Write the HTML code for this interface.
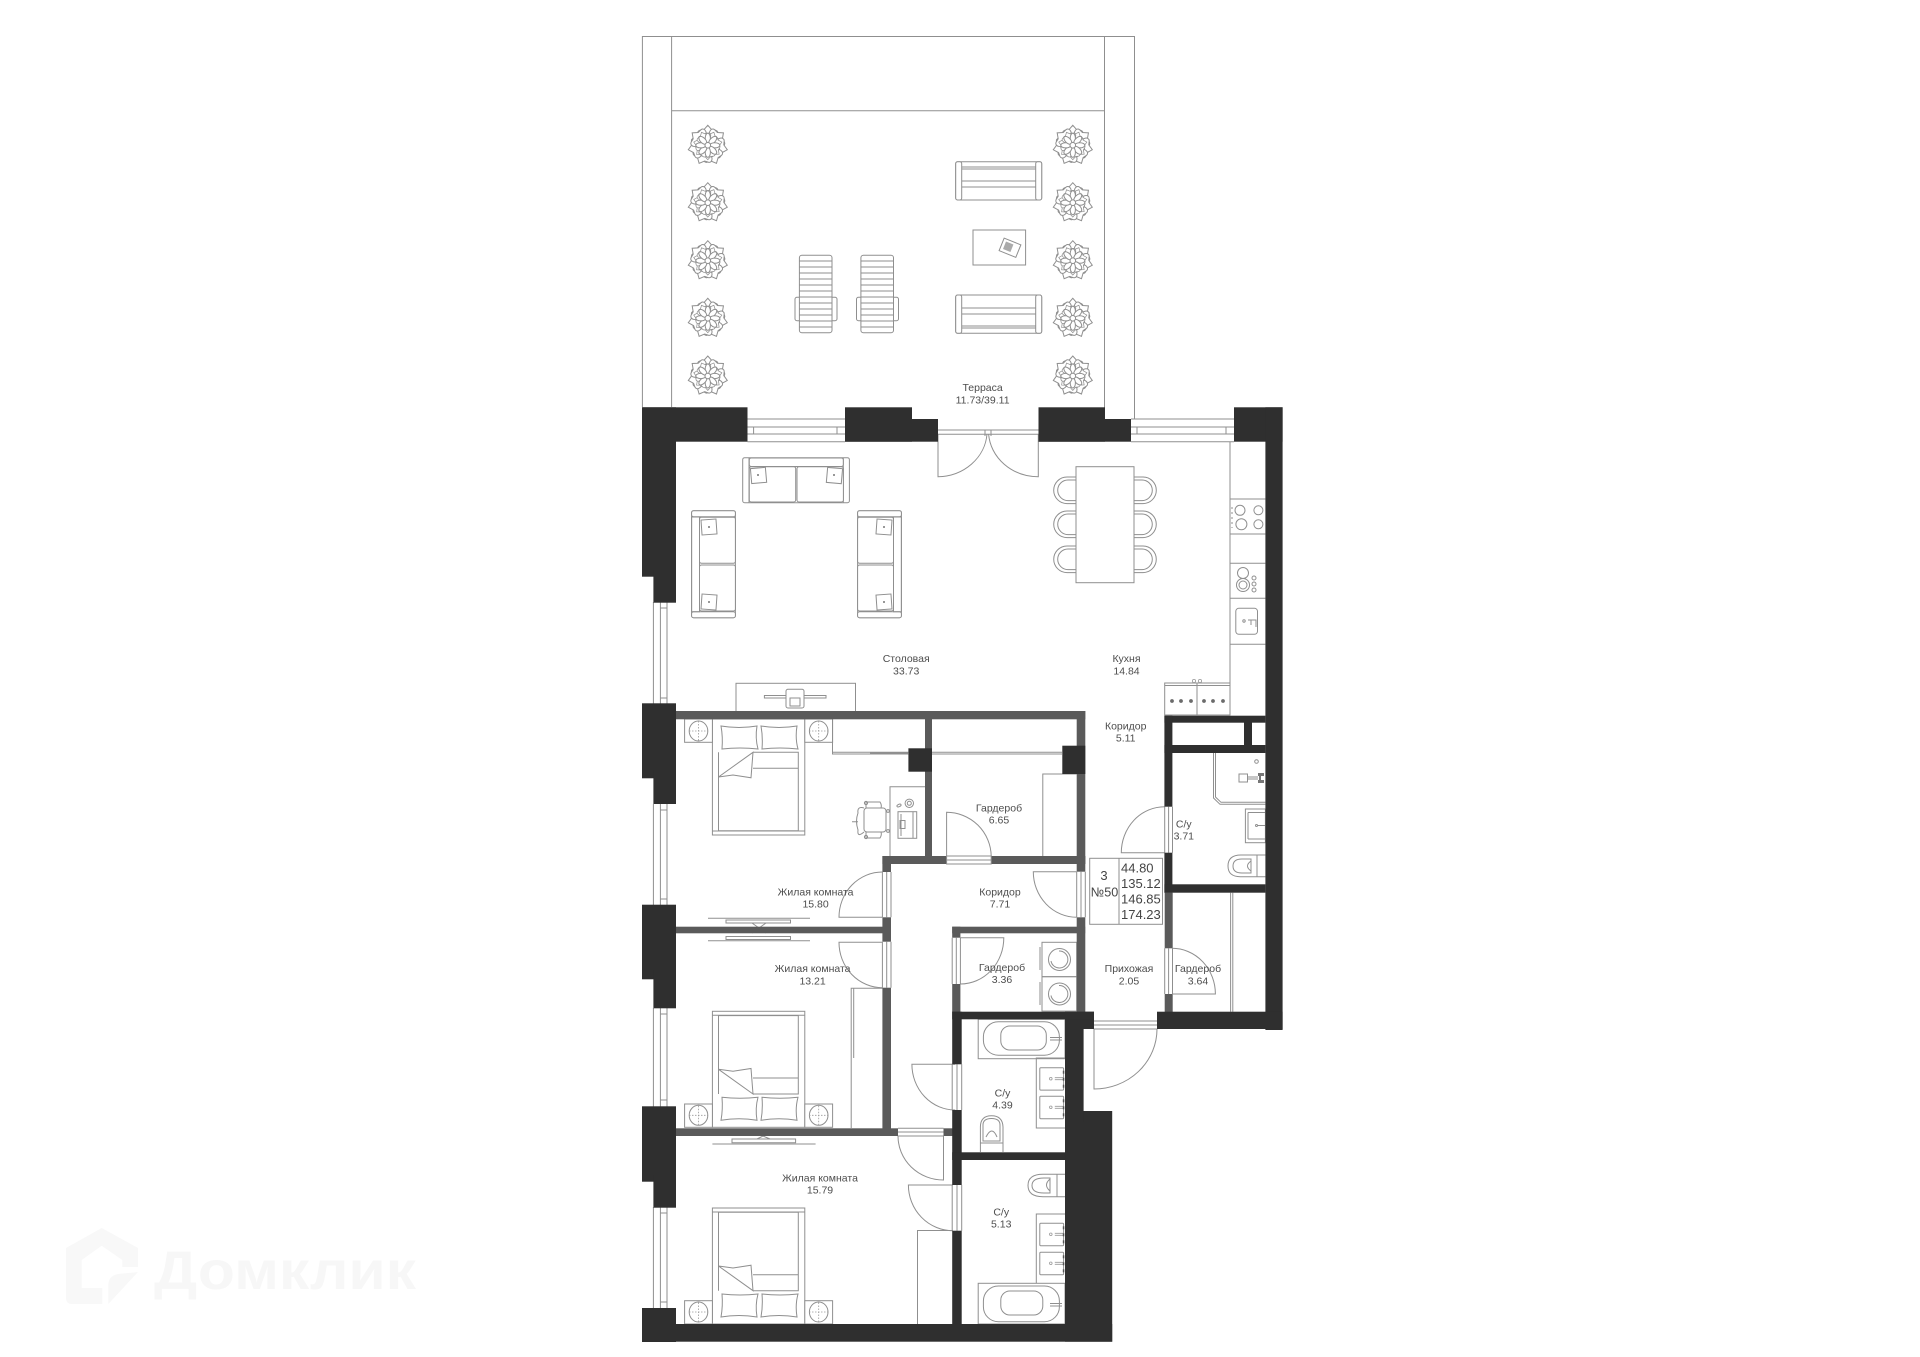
<!DOCTYPE html>
<html><head><meta charset="utf-8"><style>
html,body{margin:0;padding:0;background:#fff}
svg{display:block;filter:blur(.3px)}
text{font-family:"Liberation Sans","DejaVu Sans",sans-serif;font-size:10.5px;fill:#4d4d4d;text-anchor:middle}
.i{font-size:13px;fill:#444}
.l{fill:none;stroke:#8f8f8f;stroke-width:1}
.w{fill:#fff;stroke:#8f8f8f;stroke-width:1}
.t{fill:none;stroke:#9a9a9a;stroke-width:.8}
.k{fill:#2f2f2f}
.g{fill:#5a5a5a}
</style></head><body>
<svg width="1920" height="1357" viewBox="0 0 1920 1357" xmlns="http://www.w3.org/2000/svg">
<defs>
<path id="p1" d="M0,-4C-11,-7 -12,-14 -8,-15L-4,-15.5L0,-20L4,-15.5L8,-15C12,-14 11,-7 0,-4Z" class="w"/>
<ellipse id="p2" cx="0" cy="-7" rx="2.6" ry="5" class="w"/>
<g id="fl">
<use href="#p1"/><use href="#p1" transform="rotate(51.4)"/><use href="#p1" transform="rotate(102.9)"/><use href="#p1" transform="rotate(154.3)"/><use href="#p1" transform="rotate(205.7)"/><use href="#p1" transform="rotate(257.1)"/><use href="#p1" transform="rotate(308.6)"/>
<use href="#p1" transform="rotate(25) scale(.72)"/><use href="#p1" transform="rotate(77) scale(.72)"/><use href="#p1" transform="rotate(128) scale(.72)"/><use href="#p1" transform="rotate(180) scale(.72)"/><use href="#p1" transform="rotate(231) scale(.72)"/><use href="#p1" transform="rotate(283) scale(.72)"/><use href="#p1" transform="rotate(334) scale(.72)"/>
<use href="#p2"/><use href="#p2" transform="rotate(45)"/><use href="#p2" transform="rotate(90)"/><use href="#p2" transform="rotate(135)"/><use href="#p2" transform="rotate(180)"/><use href="#p2" transform="rotate(225)"/><use href="#p2" transform="rotate(270)"/><use href="#p2" transform="rotate(315)"/>
<circle r="2.8" class="w"/>
</g>
<g id="lounger">
<rect x="795" y="297.3" width="42" height="23.4" rx="2" class="l"/>
<rect x="799.4" y="255.3" width="32.6" height="77.4" rx="2.5" class="w"/>
<path class="l" d="M799.4,261H832M799.4,267H832M799.4,273H832M799.4,279H832M799.4,285H832M799.4,291H832M799.4,297H832M799.4,303H832M799.4,309H832M799.4,315H832M799.4,321H832M799.4,327H832"/>
</g>
<g id="bench">
<rect x="955.7" y="161.7" width="86" height="38.3" rx="2" class="l"/>
<rect x="955.7" y="161.7" width="6" height="38.3" rx="2" class="w"/>
<rect x="1035.7" y="161.7" width="6" height="38.3" rx="2" class="w"/>
<path class="l" d="M961.7,167H1035.7M961.7,169H1035.7M961.7,181H1035.7M961.7,187H1035.7"/>
</g>
<g id="bed">
<rect x="712.4" y="719" width="92.4" height="116" class="w"/>
<path class="l" d="M718.5,752.3V830.7H798.3V752.3H753M712.4,831H804.8M753,768.3H798.3"/>
<path class="w" d="M718.5,777L753,752.3L751,777.8L733,775Z"/>
<path class="w" d="M721,726Q739,729 757,726Q755,738 758,749Q740,747 722,749Q723,737 721,726Z"/>
<path class="w" d="M761,726Q779,729 797,726Q795,738 798,749Q780,747 762,749Q763,737 761,726Z"/>
<rect x="684.6" y="719" width="27.8" height="23.3" class="w"/>
<ellipse cx="698.5" cy="731" rx="9.3" ry="10" class="w"/>
<path class="t" stroke-dasharray="1.5 1.5" d="M689,731H708M698.5,721V741"/>
<rect x="804.8" y="719" width="27.8" height="23.3" class="w"/>
<ellipse cx="818.7" cy="731" rx="9.3" ry="10" class="w"/>
<path class="t" stroke-dasharray="1.5 1.5" d="M809,731H828M818.7,721V741"/>
</g>
<g id="sink">
<rect x="0" y="0" width="23.8" height="22.4" class="w" rx="1"/>
<circle cx="11" cy="11" r="1.3" class="t"/>
<path class="t" d="M15,10H24M15,12H24"/>
<rect x="23" y="3" width="1.5" height="3" fill="#555"/><rect x="23" y="10" width="1.5" height="3" fill="#555"/><rect x="23" y="17" width="1.5" height="3" fill="#555"/>
</g>
<g id="sofaV">
<rect x="691.6" y="510.7" width="43.8" height="107" rx="2" class="l"/>
<rect x="691.6" y="510.7" width="43.8" height="6" rx="2" class="w"/>
<rect x="691.6" y="611.7" width="43.8" height="6" rx="2" class="w"/>
<path class="l" d="M691.6,517V611.7H699.5V517Z"/>
<rect x="699.5" y="517.3" width="35.9" height="46" rx="2" class="w"/>
<rect x="699.5" y="565" width="35.9" height="46" rx="2" class="w"/>
<rect x="701.5" y="519.5" width="15" height="15" class="w" transform="rotate(-4 709 527)"/>
<rect x="701.5" y="594.5" width="15" height="15" class="w" transform="rotate(4 709 602)"/>
<circle cx="709" cy="527" r="1" fill="#777"/><circle cx="709" cy="602" r="1" fill="#777"/>
</g>
</defs>
<rect width="1920" height="1357" fill="#fff"/>

<!-- watermark -->
<path fill="#f8f8f8" d="M101.7,1228L138,1248V1267H122.3V1260L101.7,1245.7L81.7,1260V1288H102.3V1304H72Q66,1304 66,1298V1248ZM138,1272L108.3,1304V1285Q108.3,1276 118,1274Z"/>
<text x="285" y="1289" textLength="262" lengthAdjust="spacingAndGlyphs" style="font-size:54px;font-weight:bold;fill:#f7f7f7">Домклик</text>

<!-- terrace -->
<path class="l" d="M642.4,407V36.5H1134.5V419M671.6,407V36.5M1104.5,419V36.5M671.6,110.7H1104.5" stroke-width="1.2"/>
<use href="#fl" x="707.8" y="145.3"/><use href="#fl" x="707.8" y="202.7"/><use href="#fl" x="707.8" y="260.7"/><use href="#fl" x="707.8" y="318.3"/><use href="#fl" x="707.8" y="376"/>
<use href="#fl" x="1072.8" y="145.3"/><use href="#fl" x="1072.8" y="202.7"/><use href="#fl" x="1072.8" y="260.7"/><use href="#fl" x="1072.8" y="318.3"/><use href="#fl" x="1072.8" y="376"/>
<use href="#bench"/>
<use href="#bench" transform="translate(0,495) scale(1,-1)"/>
<rect x="973" y="230" width="52.6" height="35" class="l"/>
<g transform="rotate(22 1010 247.7)"><rect x="1001" y="241" width="18" height="13.5" class="w"/><rect x="1004" y="243.5" width="8" height="8" fill="#aaa"/></g>
<use href="#lounger"/><use href="#lounger" x="61.5"/>

<!-- living furniture -->
<rect x="742.7" y="457.7" width="106.7" height="45" rx="2" class="l"/>
<path class="l" d="M749,457.7V502.7M843.3,457.7V502.7"/>
<rect x="749.3" y="458" width="94" height="8.5" rx="2" class="w"/>
<rect x="749.3" y="466.7" width="46.4" height="35.3" rx="2" class="w"/>
<rect x="797" y="466.7" width="46.4" height="35.3" rx="2" class="w"/>
<rect x="751" y="468" width="15" height="15" class="w" transform="rotate(-5 758 475)"/>
<rect x="827" y="468" width="15" height="15" class="w" transform="rotate(5 834 475)"/>
<circle cx="758" cy="475" r="1" fill="#777"/><circle cx="834" cy="475" r="1" fill="#777"/>
<use href="#sofaV"/>
<use href="#sofaV" transform="translate(1593,0) scale(-1,1)"/>
<!-- dining -->
<path class="l" d="M1076,477h-9a13.3,13.3 0 0 0 0,26.6h9M1076,480h-8a10.3,10.3 0 0 0 0,20.6h8M1076,511h-9a13.3,13.3 0 0 0 0,26.6h9M1076,514h-8a10.3,10.3 0 0 0 0,20.6h8M1076,546h-9a13.3,13.3 0 0 0 0,26.6h9M1076,549h-8a10.3,10.3 0 0 0 0,20.6h8"/>
<path class="l" d="M1134,477h9a13.3,13.3 0 0 1 0,26.6h-9M1134,480h8a10.3,10.3 0 0 1 0,20.6h-8M1134,511h9a13.3,13.3 0 0 1 0,26.6h-9M1134,514h8a10.3,10.3 0 0 1 0,20.6h-8M1134,546h9a13.3,13.3 0 0 1 0,26.6h-9M1134,549h8a10.3,10.3 0 0 1 0,20.6h-8"/>
<rect x="1076" y="466.7" width="58" height="116" class="w"/>
<!-- tv unit -->
<rect x="736" y="683.3" width="119.5" height="30" class="l"/>
<rect x="764.4" y="695.5" width="61.6" height="2.5" class="w"/>
<rect x="786" y="689.3" width="18" height="18.7" rx="2" class="w"/>
<rect x="790" y="698" width="10" height="8" class="w"/>
<!-- kitchen -->
<path class="l" d="M1230,441.7V683M1230,499H1265.4M1230,534H1265.4M1230,563.3H1265.4M1230,598.3H1265.4M1230,644.3H1265.4"/>
<circle cx="1240" cy="510.3" r="5" class="l"/><circle cx="1258.4" cy="510.3" r="4.5" class="l"/><circle cx="1241.4" cy="524.3" r="5.5" class="l"/><circle cx="1258.4" cy="524.3" r="4.5" class="l"/>
<path class="l" stroke-dasharray="2 3" d="M1232,507V528"/>
<circle cx="1243" cy="573" r="5.5" class="l"/><circle cx="1243" cy="585" r="6.5" class="l"/><circle cx="1243" cy="585" r="4" class="l"/>
<circle cx="1254" cy="578" r="2" class="l"/><circle cx="1254" cy="584" r="2" class="l"/><circle cx="1254" cy="590" r="2" class="l"/>
<rect x="1235.8" y="608.3" width="21.7" height="26" rx="3" class="l"/>
<path class="l" d="M1248,620H1256V627M1251,620V625"/><circle cx="1244" cy="621" r="1.2" class="l"/>
<rect x="1164.7" y="683" width="65.3" height="32" class="l"/><path class="l" d="M1164.7,685.5H1230M1197,683V715"/>
<circle cx="1194" cy="681" r="1.6" class="t"/><circle cx="1200" cy="681" r="1.6" class="t"/>
<g fill="#6b6b6b"><circle cx="1172" cy="701" r="1.9"/><circle cx="1181" cy="701" r="1.9"/><circle cx="1191" cy="701" r="1.9"/><circle cx="1204" cy="701" r="1.9"/><circle cx="1213" cy="701" r="1.9"/><circle cx="1223" cy="701" r="1.9"/></g>

<!-- windows top -->
<path class="l" d="M747.5,419H845M747.5,427H845M747.5,434H845M747.5,441.7H845M753.6,427V434M837,427V434M1131,419H1234M1131,427H1234M1131,434H1234M1131,441.7H1234M1137,427V434M1226,427V434"/>
<!-- windows left -->
<path class="l" d="M653.4,602V704M660.4,602V704M667,602V704M653.4,804V905M660.4,804V905M667,804V905M653.4,1008V1107M660.4,1008V1107M667,1008V1107M653.4,1207V1308M660.4,1207V1308M667,1207V1308M660.4,608H667M660.4,698H667M660.4,810H667M660.4,899H667M660.4,1014H667M660.4,1100H667M660.4,1213H667M660.4,1302H667"/>
<!-- balcony door -->
<path class="l" d="M938,430H1038.5M938,434.3H1038.5M985,430V436M991,430V436"/>
<path class="l" d="M938,434V476.7A50,46 0 0 0 987,434M1038.3,434V476.7A50,46 0 0 1 988.6,434"/>

<!-- bedroom 1 -->
<use href="#bed"/>
<path class="l" d="M832.5,719V754H908.4M832.5,752.3H908.4M870,753H908"/>
<path class="l" d="M932,752.3H1062M932,754H1062"/>
<path class="l" d="M1042.8,856V774H1076.7"/>
<path class="l" d="M890,856V786.7H925"/>
<!-- desk chair -->
<rect x="864" y="808" width="22" height="24" rx="3" class="l"/>
<path class="l" d="M864,808Q857,806 858,813Q855,821 858,830Q857,838 864,832"/>
<path class="l" d="M866,802H880Q882,805 881,808H866ZM866,838H880Q882,835 881,832H866ZM852,821.7H858"/>
<circle cx="866" cy="803" r="1.6" class="l"/><circle cx="866" cy="837" r="1.6" class="l"/><circle cx="888" cy="811" r="1.4" class="l"/><circle cx="888" cy="831" r="1.4" class="l"/>
<rect x="898" y="811.7" width="18.7" height="26.6" class="l"/><path class="l" d="M901,814V836M913,811.7V838.3"/><rect x="900" y="820.5" width="5" height="8" class="l"/>
<circle cx="909.3" cy="803.3" r="4.2" class="l"/><circle cx="909.3" cy="803.3" r="2" class="l"/><ellipse cx="899" cy="805.5" rx="2.2" ry="1.2" class="l" transform="rotate(-25 899 805.5)"/>
<!-- tv bedrooms -->
<path class="l" d="M708,918.3H810M726,920H790.5V923H726ZM752,923L766,933M766,923L752,933"/>
<path class="l" d="M708,940.7H810M726,936.5H790.5V939.5H726Z"/>
<path class="l" d="M712.4,1144H815.6M732,1139H795.6V1142.7H732ZM757,1139L763,1136L770,1139"/>
<!-- bedroom 2 -->
<use href="#bed" transform="translate(0,1846.3) scale(1,-1)"/>
<path class="l" d="M882.4,988.3H851.2V1128M853.7,988.3V1058"/>
<!-- bedroom 3 -->
<use href="#bed" transform="translate(0,2043) scale(1,-1)"/>
<path class="l" d="M917.5,1324V1230.5H952"/>

<!-- wardrobe 3.36 washers -->
<rect x="1042" y="942.3" width="34.7" height="34.4" class="l"/><rect x="1042" y="976.7" width="34.7" height="34.4" class="l"/>
<path class="l" d="M1040,947V970M1040,982V1005"/>
<circle cx="1059.5" cy="959.5" r="11" class="l"/><path class="l" d="M1059,951A8.5,8.5 0 1 1 1051,961"/>
<circle cx="1059.5" cy="994" r="11" class="l"/><path class="l" d="M1059,985.5A8.5,8.5 0 1 1 1051,995.5"/>
<!-- wardrobe 3.64 -->
<path class="l" d="M1230.6,892.7V1011.7M1232.8,892.7V1011.7"/>

<!-- bath 3.71 -->
<path class="l" d="M1213.5,752.7V798L1220,804.3H1265.4M1215.5,752.7V797L1221,802.3H1265.4"/>
<rect x="1239" y="774" width="8.5" height="8" class="l"/><path class="l" d="M1247.5,777H1258M1247.5,779H1258"/><circle cx="1256.5" cy="761.5" r="1.8" class="l"/>
<path fill="#777" d="M1258,773h6v3h-6zM1258,780h6v3h-6zM1259,776h2v4h-2z"/>
<rect x="1245.4" y="809" width="20" height="33.7" class="l"/><path class="l" d="M1248,812.5H1265M1248,839H1265M1248,812.5V839"/><path class="l" d="M1257,825.5H1265"/><circle cx="1256.5" cy="825.5" r="1" class="l"/>
<path class="l" d="M1257,855V876.7M1265.4,855H1241Q1228,855 1228,866T1241,876.7H1265.4M1251,859H1242Q1233,859 1233,866T1242,873H1251ZM1251,861Q1244,866 1251,871"/>

<!-- bath 4.39 -->
<rect x="978.2" y="1019.3" width="86.8" height="39.4" class="l"/>
<rect x="983.4" y="1021.7" width="76" height="33.5" rx="15" class="l"/>
<rect x="1000.8" y="1026" width="45.5" height="24" rx="9" class="l"/>
<path class="l" d="M1050,1037.5H1062M1050,1040H1062"/>
<path class="l" d="M1065,1058H1036.3V1128H1065"/>
<use href="#sink" x="1039.8" y="1067.7"/><use href="#sink" x="1039.8" y="1096.3"/>
<path class="l" d="M980.4,1152V1127Q980.4,1115.7 991.5,1115.7T1003,1127V1152M983,1125Q983,1118.5 991.5,1118.5T1000,1125V1141H983ZM980.4,1143H1003M986,1137Q992,1125 997,1137"/>
<!-- bath 5.13 -->
<path class="l" d="M1065,1174.3H1043Q1028,1174.3 1028,1185.5T1043,1196.7H1065M1057,1174.3V1196.7M1050,1178H1044Q1032,1178 1032,1185.5T1044,1193H1050ZM1050,1179Q1043,1185 1050,1191"/>
<path class="l" d="M1065,1214H1036.3V1283.3"/>
<use href="#sink" x="1039.8" y="1223.3"/><use href="#sink" x="1039.8" y="1252.3"/>
<rect x="978.2" y="1283.3" width="86.8" height="40.7" class="l"/>
<rect x="983.4" y="1286" width="76" height="35.7" rx="15" class="l"/>
<rect x="1000.8" y="1291" width="42" height="24" rx="9" class="l"/>
<path class="l" d="M1050,1303.5H1062M1050,1306H1062"/>

<!-- gray walls -->
<g class="g">
<rect x="676" y="711" width="409.3" height="8.3"/>
<rect x="925" y="711" width="7" height="153"/>
<rect x="1076.7" y="711" width="8.6" height="153"/>
<rect x="882.4" y="856" width="64.2" height="8"/>
<rect x="991.2" y="856" width="94.1" height="8"/>
<rect x="882.4" y="856" width="8.6" height="16"/>
<rect x="882.4" y="917.3" width="8.6" height="24.4"/>
<rect x="882.4" y="987.7" width="8.6" height="148"/>
<rect x="676" y="926.7" width="215" height="6.6"/>
<rect x="1076.7" y="856" width="8.6" height="15.7"/>
<rect x="1076.7" y="917.3" width="8.6" height="95"/>
<rect x="952.2" y="926.7" width="133" height="6.6"/>
<rect x="952.2" y="926.7" width="8.2" height="11"/>
<rect x="952.2" y="984" width="8.2" height="28"/>
<rect x="676" y="1128.3" width="222" height="7.7"/>
<rect x="943.5" y="1128.3" width="9" height="7.7"/>
<rect x="1164.7" y="892.7" width="8" height="55.6"/>
<rect x="1164.7" y="994" width="8" height="18"/>
</g>
<!-- thresholds -->
<path class="l" d="M946.6,856H991.2V864H946.6ZM946.6,860H991.2"/>
<path class="l" d="M882.4,872V917.3M891,872V917.3M886.7,872V917.3M882.4,941.7V987.7M891,941.7V987.7M886.7,941.7V987.7"/>
<path class="l" d="M1076.7,871.7V917.3M1085.3,871.7V917.3M1081,871.7V917.3"/>
<path class="l" d="M952.2,937.7V984M960.4,937.7V984M956.3,937.7V984"/>
<path class="l" d="M1164.7,806.7V852.7M1172.5,806.7V852.7M1168.6,806.7V852.7M1164.7,948.3V994M1172.5,948.3V994M1168.6,948.3V994"/>
<path class="l" d="M952.2,1064.3V1110M961.7,1064.3V1110M957,1064.3V1110M952.2,1185V1230.7M961.7,1185V1230.7M957,1185V1230.7"/>
<path class="l" d="M898,1128.3H943.5M898,1136H943.5M898,1132H943.5"/>
<path class="l" d="M1094,1021H1157M1094,1029H1157M1094,1025H1157"/>
<!-- doors -->
<path class="l" d="M946.6,856V812.3A44.6,44.6 0 0 1 991.2,856"/>
<path class="l" d="M882.4,917.3H839A43.4,45.3 0 0 1 882.4,872"/>
<path class="l" d="M882.4,942.3H839A43.4,45.3 0 0 0 882.4,987.7"/>
<path class="l" d="M1076.7,871.7H1033.3A43.4,45.6 0 0 0 1076.7,917.3"/>
<path class="l" d="M960.4,937.7H1003.8A43.4,46.3 0 0 1 960.4,984"/>
<path class="l" d="M1164.7,852.7H1121.3A43.4,46 0 0 1 1164.7,806.7"/>
<path class="l" d="M1172,994H1215.4A43.4,45.7 0 0 0 1172,948.3"/>
<path class="l" d="M1094,1029V1089A63,60 0 0 0 1157,1029"/>
<path class="l" d="M955.2,1064.3H911.9A43.3,45.7 0 0 0 955.2,1110"/>
<path class="l" d="M943.5,1136V1180A45.5,44 0 0 1 898,1136"/>
<path class="l" d="M953,1185H908.4A44.6,45.7 0 0 0 953,1230.7"/>

<!-- black walls -->
<g class="k">
<rect x="642" y="407.3" width="105.5" height="34.4"/>
<rect x="642" y="407.3" width="34" height="169.4"/>
<rect x="653.4" y="570" width="22.6" height="32.7"/>
<rect x="845" y="407.3" width="67" height="34.4"/>
<rect x="845" y="419" width="93" height="22.7"/>
<rect x="1038.5" y="407.3" width="66.5" height="34.4"/>
<rect x="1038.5" y="419" width="92.5" height="22.7"/>
<rect x="1234" y="407.3" width="48.6" height="34.4"/>
<rect x="1265.4" y="407.3" width="17.2" height="622.7"/>
<rect x="642" y="703.3" width="34" height="75"/>
<rect x="653.4" y="770" width="22.6" height="34"/>
<rect x="642" y="904.7" width="34" height="74.6"/>
<rect x="653.4" y="970" width="22.6" height="38.3"/>
<rect x="642" y="1106.3" width="34" height="75.4"/>
<rect x="653.4" y="1175" width="22.6" height="32.7"/>
<rect x="642" y="1308" width="34" height="34"/>
<rect x="642" y="1324" width="470.2" height="17.7"/>
<rect x="1065" y="1111" width="47.2" height="230.7"/>
<rect x="1065" y="1012" width="18.6" height="110"/>
<rect x="1065" y="1011.7" width="29" height="17.3"/>
<rect x="952.2" y="1011.7" width="141.8" height="7.6"/>
<rect x="952.2" y="1011.7" width="9.5" height="52.6"/>
<rect x="952.2" y="1110" width="9.5" height="75"/>
<rect x="952.2" y="1230.7" width="9.5" height="93.3"/>
<rect x="952.2" y="1152.3" width="113" height="7.7"/>
<rect x="1157" y="1011.7" width="125.6" height="17.3"/>
<rect x="1164.4" y="715.7" width="101" height="7"/>
<rect x="1164.4" y="745" width="101" height="8"/>
<rect x="1164.4" y="715.7" width="8" height="91"/>
<rect x="1164.4" y="852.7" width="8" height="40"/>
<rect x="1164.4" y="884.3" width="101" height="8.4"/>
<rect x="1244" y="722" width="8" height="24"/>
<rect x="908.4" y="748.3" width="23.6" height="23.4"/>
<rect x="1062.3" y="745.7" width="23" height="28.3"/>
</g>

<!-- labels -->
<text x="982.6" y="391">Терраса</text><text x="982.6" y="403.4">11.73/39.11</text>
<text x="906.2" y="662">Столовая</text><text x="906.2" y="674.4">33.73</text>
<text x="1126.5" y="662">Кухня</text><text x="1126.5" y="674.4">14.84</text>
<text x="1125.7" y="729.4">Коридор</text><text x="1125.7" y="741.6">5.11</text>
<text x="999" y="811.4">Гардероб</text><text x="999" y="823.7">6.65</text>
<text x="815.6" y="895.4">Жилая комната</text><text x="815.6" y="907.7">15.80</text>
<text x="1000" y="895.4">Коридор</text><text x="1000" y="907.7">7.71</text>
<text x="812.6" y="972">Жилая комната</text><text x="812.6" y="984.4">13.21</text>
<text x="1002" y="971">Гардероб</text><text x="1002" y="983">3.36</text>
<text x="1129" y="972">Прихожая</text><text x="1129" y="984.4">2.05</text>
<text x="1198" y="972">Гардероб</text><text x="1198" y="984.4">3.64</text>
<text x="1183.8" y="827.7">С/у</text><text x="1183.8" y="839.7">3.71</text>
<text x="1002.5" y="1096.4">С/у</text><text x="1002.5" y="1108.7">4.39</text>
<text x="820" y="1181.4">Жилая комната</text><text x="820" y="1193.7">15.79</text>
<text x="1001.2" y="1215.7">С/у</text><text x="1001.2" y="1227.7">5.13</text>

<!-- info box -->
<rect x="1089.7" y="858.3" width="72.8" height="66" fill="#fff" stroke="#8f8f8f"/>
<path class="l" d="M1119,858.3V924.3"/>
<text class="i" x="1104" y="880">3</text><text class="i" x="1104.5" y="896.5" textLength="27.5" lengthAdjust="spacingAndGlyphs">№50</text>
<text class="i" x="1121" y="872.5" style="text-anchor:start">44.80</text>
<text class="i" x="1121" y="888" style="text-anchor:start">135.12</text>
<text class="i" x="1121" y="903.5" style="text-anchor:start">146.85</text>
<text class="i" x="1121" y="919" style="text-anchor:start">174.23</text>
</svg>
</body></html>
